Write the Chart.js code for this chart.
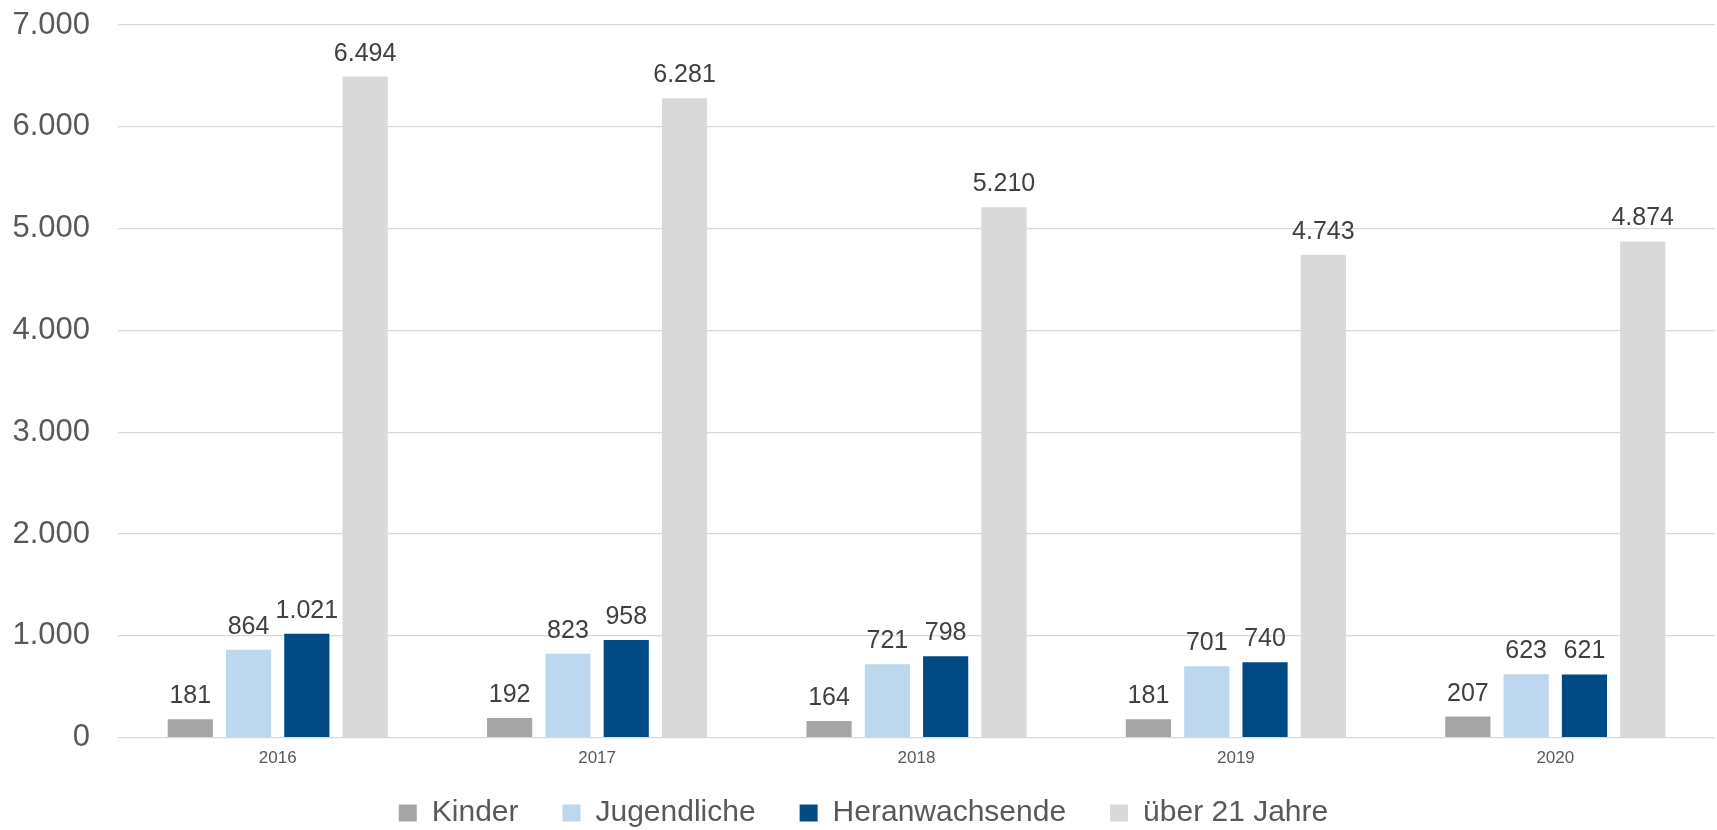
<!DOCTYPE html>
<html>
<head>
<meta charset="utf-8">
<script src="https://cdn.jsdelivr.net/npm/chart.js@4.4.1/dist/chart.umd.min.js"></script>
<style>
  html, body { margin: 0; padding: 0; background: #ffffff; }
  #wrap { width: 1717px; height: 830px; position: relative; }
</style>
</head>
<body>
<div id="wrap"><canvas id="c"></canvas></div>
<script>
const categories = ['2016', '2017', '2018', '2019', '2020'];
const seriesNames = ['Kinder', 'Jugendliche', 'Heranwachsende', 'über 21 Jahre'];
const kinder = [181, 192, 164, 181, 207];
const jugendliche = [864, 823, 721, 701, 623];
const heranwachsende = [1021, 958, 798, 740, 621];
const ueber21 = [6494, 6281, 5210, 4743, 4874];
const yTicks = [0, 1000, 2000, 3000, 4000, 5000, 6000, 7000];

const colors = ['#A5A5A5', '#BDD7EE', '#004A86', '#D9D9D9'];
const FONT = '"Liberation Sans", Arial, sans-serif';

function fmt(v) {
  return String(Math.round(v)).replace(/\B(?=(\d{3})+(?!\d))/g, '.');
}

const valueLabels = {
  id: 'valueLabels',
  afterDatasetsDraw(chart) {
    const ctx = chart.ctx;
    ctx.save();
    ctx.font = '25px ' + FONT;
    ctx.fillStyle = '#404040';
    ctx.textAlign = 'center';
    ctx.textBaseline = 'alphabetic';
    chart.data.datasets.forEach((ds, i) => {
      const meta = chart.getDatasetMeta(i);
      meta.data.forEach((bar, j) => {
        ctx.fillText(fmt(ds.data[j]), bar.x, bar.y - 16);
      });
    });
    ctx.restore();
  }
};

const legendTweak = {
  id: 'legendTweak',
  beforeInit(chart) {
    const orig = chart.legend.fit;
    chart.legend.fit = function () {
      orig.bind(chart.legend)();
      this.height = 50;
    };
  },
  afterLayout(chart) {
    chart.legend.top = chart.legend.bottom - 76;
  }
};

const seriesData = [kinder, jugendliche, heranwachsende, ueber21];

new Chart(document.getElementById('c'), {
  type: 'bar',
  data: {
    labels: categories,
    datasets: seriesNames.map((name, i) => ({
      label: name,
      data: seriesData[i],
      backgroundColor: colors[i],
      borderWidth: 0,
      categoryPercentage: 0.73,
      barPercentage: 0.775
    }))
  },
  options: {
    responsive: true,
    maintainAspectRatio: false,
    animation: false,
    layout: { padding: { top: 25, left: 12, right: 2, bottom: 0 } },
    plugins: {
      tooltip: { enabled: false },
      legend: {
        position: 'bottom',
        labels: {
          boxWidth: 18,
          boxHeight: 17,
          padding: 44,
          color: '#595959',
          font: { family: FONT, size: 30 }
        }
      }
    },
    scales: {
      x: {
        grid: { display: false, drawTicks: false },
        border: { display: false },
        ticks: {
          color: '#595959',
          padding: 11,
          font: { family: FONT, size: 17 }
        },
        afterFit(scale) { scale.paddingLeft = 0; scale.paddingRight = 0; }
      },
      y: {
        min: 0,
        max: 7000,
        afterBuildTicks(scale) {
          scale.ticks = yTicks.map(v => ({ value: v }));
        },
        grid: { color: '#D9D9D9', lineWidth: 1.3, drawTicks: false },
        border: { display: false },
        ticks: {
          color: '#595959',
          padding: 28,
          font: { family: FONT, size: 31 },
          callback: (v) => fmt(v)
        },
        afterFit(scale) {
          scale.width = 106;
          scale.paddingTop = 19;
          scale.paddingBottom = 0;
        }
      }
    }
  },
  plugins: [valueLabels, legendTweak]
});
</script>
</body>
</html>
